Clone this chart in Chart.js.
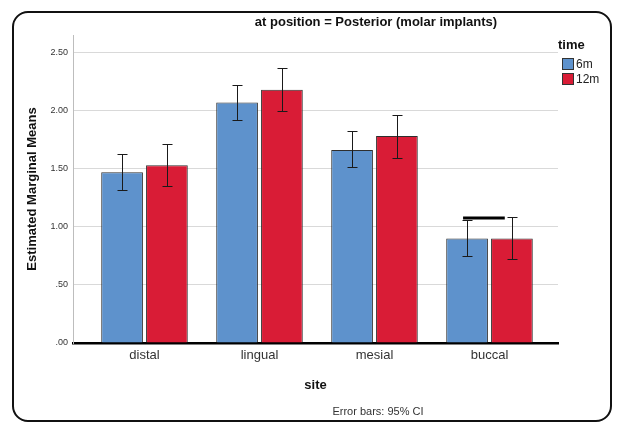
<!DOCTYPE html>
<html>
<head>
<meta charset="utf-8">
<script src="https://cdn.jsdelivr.net/npm/chart.js@4.4.1/dist/chart.umd.min.js"></script>
<style>
  body { margin: 0; background: #fff; font-family: "Liberation Sans", Arial, sans-serif; }
  #wrap { position: relative; width: 617px; height: 422px; overflow: hidden; }
  #frame { position: absolute; left: 12px; top: 11px; width: 600px; height: 411px; box-sizing: border-box;
           border: 2px solid #111; border-radius: 16px; }
  canvas { position: absolute; left: 0; top: 0; }
  .title { position: absolute; left: 376px; top: 14px; transform: translateX(-50%); white-space: nowrap;
           font-weight: bold; font-size: 13px; color: #111; }
  .note { position: absolute; left: 378px; top: 405px; transform: translateX(-50%); white-space: nowrap;
          font-size: 11px; color: #333; }
  #legend { position: absolute; left: 558px; top: 37px; color: #222; }
  #legend .head { font-weight: bold; font-size: 13px; margin-bottom: 4px; color: #111; }
  #legend .item { display: flex; align-items: center; font-size: 12px; height: 15px; }
  #legend .sw { width: 10px; height: 10px; border: 1px solid #333; margin: 0 2px 0 4px; }
</style>
</head>
<body>
<div id="wrap">
  <div id="frame"></div>
  <canvas id="chart" width="617" height="422"></canvas>
  <div class="title">at position = Posterior (molar implants)</div>
  <div id="legend"></div>
  <div class="note">Error bars: 95% CI</div>
</div>
<script>
// values
const sites = ["distal", "lingual", "mesial", "buccal"];
const timeLabels = ["6m", "12m"];
const mean6m = [1.47, 2.07, 1.66, 0.90];
const mean12m = [1.53, 2.18, 1.78, 0.90];
const lower6m = [1.32, 1.92, 1.51, 0.75];
const upper6m = [1.63, 2.22, 1.82, 1.06];
const lower12m = [1.35, 2.00, 1.59, 0.72];
const upper12m = [1.71, 2.37, 1.96, 1.08];
const buccalMark = 1.075; // the stray thick bar above buccal 6m
const yTicks = [0, 0.5, 1, 1.5, 2, 2.5];

const colors = { blue: "#5e92cc", red: "#d91c36", edge: "#2e2e2e", grid: "#d9d9d9" };
const seriesColors = [colors.blue, colors.red];
const lows = [lower6m, lower12m];
const highs = [upper6m, upper12m];

document.getElementById("legend").innerHTML =
  `<div class="head">time</div>` +
  timeLabels.map((t, i) => `<div class="item"><span class="sw" style="background:${seriesColors[i]}"></span>${t}</div>`).join("");

const fmtTick = (v) => v.toFixed(2).replace(/^0/, "");

const errorBars = {
  id: "errorBars",
  afterDatasetsDraw(chart) {
    const { ctx, scales: { y } } = chart;
    ctx.save();
    ctx.strokeStyle = "#1a1a1a";
    ctx.lineWidth = 1;
    chart.data.datasets.forEach((ds, d) => {
      const meta = chart.getDatasetMeta(d);
      meta.data.forEach((bar, i) => {
        const x = Math.round(bar.x) + 0.5;
        const yt = Math.round(y.getPixelForValue(highs[d][i])) + 0.5;
        const yb = Math.round(y.getPixelForValue(lows[d][i])) + 0.5;
        ctx.beginPath();
        ctx.moveTo(x, yt); ctx.lineTo(x, yb);
        ctx.moveTo(x - 5, yt); ctx.lineTo(x + 5, yt);
        ctx.moveTo(x - 5, yb); ctx.lineTo(x + 5, yb);
        ctx.stroke();
      });
    });
    // thick mark over buccal 6m
    const b = chart.getDatasetMeta(0).data[3];
    const ym = y.getPixelForValue(buccalMark);
    ctx.lineWidth = 3;
    ctx.strokeStyle = "#000";
    ctx.beginPath();
    ctx.moveTo(b.x - 4, ym);
    ctx.lineTo(b.x - 4 + b.width, ym);
    ctx.stroke();
    ctx.restore();
  },
};

new Chart(document.getElementById("chart"), {
  type: "bar",
  data: {
    datasets: [
      { label: timeLabels[0], data: sites.map((s, i) => ({ x: i, y: mean6m[i] })), backgroundColor: colors.blue },
      { label: timeLabels[1], data: sites.map((s, i) => ({ x: i, y: mean12m[i] })), backgroundColor: colors.red },
    ].map((ds) => ({ ...ds, borderColor: colors.edge, borderWidth: 1, categoryPercentage: 0.78, barPercentage: 0.93 })),
  },
  plugins: [errorBars],
  options: {
    responsive: false,
    animation: false,
    layout: { padding: { left: 13, right: 59, top: 35, bottom: 0 } },
    plugins: { legend: { display: false }, tooltip: { enabled: false } },
    scales: {
      x: {
        type: "linear",
        offset: false,
        min: -0.6217,
        max: 3.5957,
        afterFit: (s) => { s.height = 79; },
        grid: { display: false, drawTicks: false, offset: false },
        border: { color: "#000", width: 2.5 },
        ticks: {
          stepSize: 1,
          includeBounds: false,
          padding: 5,
          color: "#333",
          font: { family: "Liberation Sans", size: 13 },
          callback: (v) => sites[v] ?? "",
        },
        title: {
          display: true,
          text: "site",
          color: "#111",
          font: { family: "Liberation Sans", size: 13, weight: "bold" },
          padding: { top: 0, bottom: 29 },
        },
      },
      y: {
        min: 0,
        max: 2.65,
        afterFit: (s) => { s.width = 60; },
        afterBuildTicks: (s) => { s.ticks = yTicks.map((v) => ({ value: v })); },
        grid: { color: colors.grid, drawTicks: false },
        border: { color: "#bdbdbd", width: 1 },
        ticks: {
          padding: 5,
          color: "#333",
          font: { family: "Liberation Sans", size: 9 },
          callback: (v) => fmtTick(v),
        },
        title: {
          display: true,
          text: "Estimated Marginal Means",
          color: "#111",
          font: { family: "Liberation Sans", size: 13, weight: "bold" },
          padding: { top: 12, bottom: 0 },
        },
      },
    },
  },
});
</script>
</body>
</html>
